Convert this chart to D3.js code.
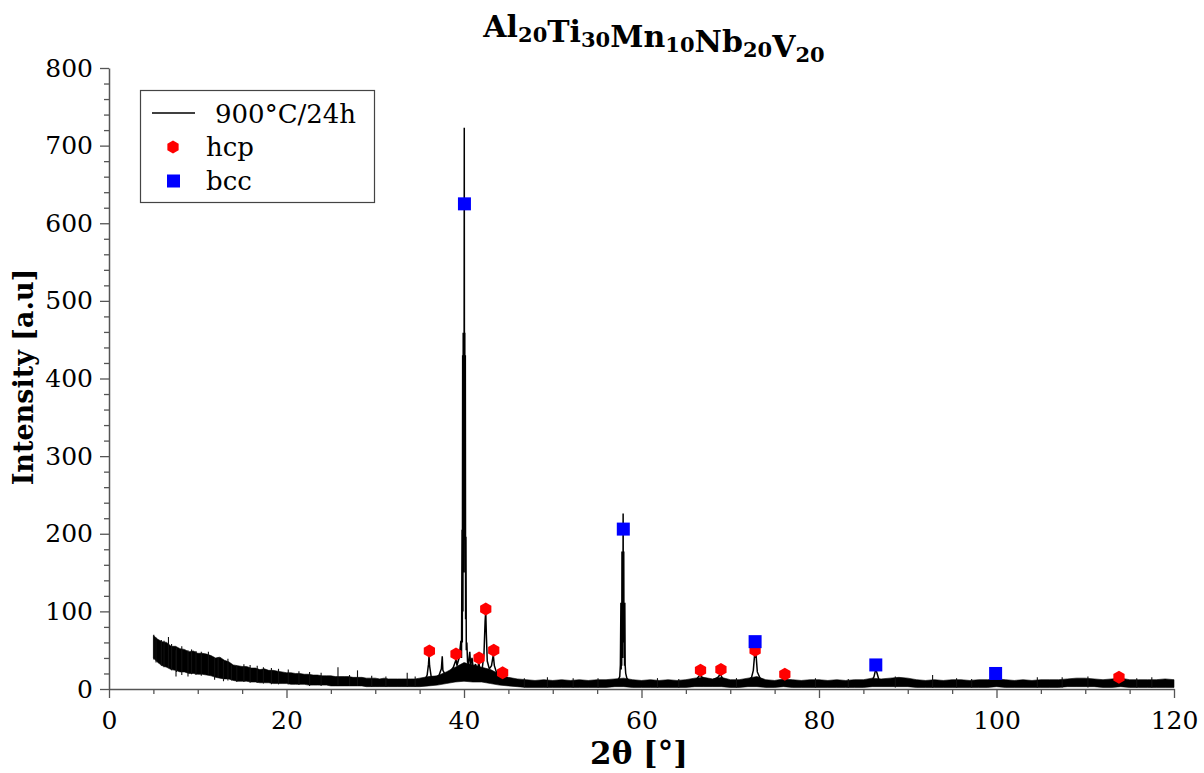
<!DOCTYPE html>
<html>
<head>
<meta charset="utf-8">
<script src="https://cdn.jsdelivr.net/npm/d3@7"></script>
<style>
  body { margin: 0; background: #fff; }
  svg { display: block; font-family: "DejaVu Serif", serif; }
  .axis .domain { stroke: #555; stroke-width: 1.5; }
  .axis .tick line { stroke: #555; stroke-width: 1.3; }
  .axis .tick text { fill: #000; font-size: 25px; font-family: "DejaVu Serif", serif; }
</style>
</head>
<body>
<svg id="chart" width="1204" height="773"></svg>
<script>
// ---- XRD pattern, Al20Ti30Mn10Nb20V20 annealed 900 °C / 24 h ----

// Noise band of the measured trace: lower and upper envelope (a.u.) vs 2θ (°)
const bandAngle = [
  5.0, 5.5, 6.0, 6.5, 7.0, 7.5, 8.0, 8.5, 9.0, 9.5, 10.0, 10.5, 11.0, 11.5, 12.0, 12.5,
  13.0, 13.5, 14.0, 14.5, 15.0, 15.5, 16.0, 16.5, 17.0, 17.5, 18.0, 18.5, 19.0, 19.5,
  20.0, 20.5, 21.0, 21.5, 22.0, 22.5, 23.0, 23.5, 24.0, 24.5, 25.0, 25.5, 26.0, 26.5,
  27.0, 27.5, 28.0, 28.5, 29.0, 29.5, 30.0, 30.5, 31.0, 31.5, 32.0, 32.5, 33.0, 33.5,
  34.0, 34.5, 35.0,
  36, 37, 38, 39, 40, 41, 42, 43, 44, 45, 46, 47, 48, 49, 50, 51, 52, 53, 54, 55, 56,
  57, 58, 59, 60, 61, 62, 63, 64, 65, 66, 67, 68, 69, 70, 71, 72, 73, 74, 75, 76, 77,
  78, 79, 80, 81, 82, 83, 84, 85, 86, 87, 88, 89, 90, 91, 92, 93, 94, 95, 96, 97, 98,
  99, 100, 101, 102, 103, 104, 105, 106, 107, 108, 109, 110, 111, 112, 113, 114, 115,
  116, 117, 118, 119, 120
];
const bandLow = [
  40, 34, 30, 28, 25, 24, 22, 22, 20, 20, 19, 19, 18, 17, 15, 14,
  13, 13, 11, 10, 10, 10, 9, 9, 8, 8, 8, 7, 7, 7,
  7, 6, 6, 6, 6, 5, 5, 5, 5, 5, 4, 4, 4, 4,
  4, 4, 4, 4, 3, 3, 3, 3, 3, 3, 3, 3, 3, 3,
  3, 3, 3,
  4, 5, 7, 9, 10, 9, 9, 7, 5, 4, 3, 2, 2, 2, 2, 2, 2, 2, 2, 2, 2,
  3, 3, 2, 2, 2, 2, 2, 2, 2, 3, 3, 3, 3, 2, 2, 3, 3, 2, 2, 3, 2,
  2, 2, 2, 2, 2, 2, 2, 2, 3, 3, 3, 3, 3, 2, 2, 2, 2, 2, 2, 2, 2,
  2, 3, 2, 2, 2, 2, 2, 2, 2, 3, 3, 3, 3, 2, 2, 3, 2,
  2, 2, 2, 2, 2
];
const bandHigh = [
  69, 64, 61, 60, 55, 55, 52, 51, 48, 49, 46, 46, 45, 43, 40, 41,
  37, 35, 31, 30, 29, 29, 27, 27, 25, 26, 24, 24, 23, 22,
  21, 21, 20, 20, 19, 19, 18, 18, 17, 17, 17, 16, 16, 16,
  16, 15, 15, 15, 14, 14, 14, 13, 14, 13, 13, 13, 13, 13,
  13, 13, 14,
  16, 17, 22, 28, 34, 31, 28, 25, 19, 15, 13, 12, 11, 12, 11, 12, 11, 12, 11, 12, 12,
  13, 14, 12, 11, 12, 11, 12, 11, 12, 14, 15, 13, 15, 12, 12, 14, 16, 12, 11, 13, 12,
  11, 12, 12, 11, 12, 11, 12, 12, 14, 13, 14, 15, 14, 12, 11, 12, 11, 12, 12, 11, 12,
  12, 13, 12, 11, 12, 11, 12, 12, 12, 13, 14, 14, 13, 12, 13, 14, 12,
  12, 12, 12, 13, 12
];

// Isolated noise spikes sticking out of the band (lower end, upper end)
const spikeAngle = [
  5.05, 5.3, 5.9, 6.2, 6.7, 7.05, 7.55, 7.6, 8.2, 8.9, 9.3, 9.8, 10.4, 11.2, 11.9, 12.3,
  12.9, 13.4, 13.8, 14.4, 15.2, 15.9, 16.7, 17.4, 18.3, 19.1, 20.2, 21.4, 22.6, 23.9,
  25.8, 27.1, 28.0, 29.6, 31.2, 33.6, 34.5,
  46.8, 49.4, 52.3, 55.1, 61.8, 64.2, 70.7, 79.6, 83.3, 88.6, 92.8, 95.5, 97.2, 104.6,
  107.4, 110.3, 115.8, 117.5
];
const spikeLow = [
  38, 34, 30, 28, 27, 24, 16, 22, 18, 16, 19, 18, 17, 19, 12, 15,
  10, 11, 11, 9, 9, 8, 8, 7, 6, 6, 6, 5, 4, 4,
  5, 4, 4, 3, 3, 3, 3,
  2, 2, 2, 2, 2, 2, 2, 2, 2, 2, 2, 2, 2, 2,
  2, 2, 2, 2
];
const spikeHigh = [
  70, 66, 63, 62, 67, 58, 50, 53, 55, 50, 51, 49, 48, 48, 40, 41,
  36, 39, 31, 30, 32, 31, 30, 28, 27, 26, 25, 23, 22, 21,
  28, 18, 24, 17, 16, 21, 16,
  14, 15, 14, 14, 14, 13, 14, 14, 13, 16, 18, 14, 13, 15,
  15, 16, 14, 15
];

// Diffraction peak profiles (null separates the peak groups)
const peakAngle = [
  35.6, 35.85, 36.0, 36.06, 36.12, 36.3, 36.7, 37.2, 37.45, 37.55, 37.62, 37.9, 38.4, 38.8,
  39.05, 39.12, 39.2, 39.45, 39.65, 39.72, 39.78, 39.81, 39.85, 39.88, 39.91, 39.94, 39.97,
  40.0, 40.03, 40.06, 40.09, 40.12, 40.15, 40.18, 40.22, 40.26, 40.32, 40.4, 40.5, 40.65,
  40.75, 40.9, 41.05, 41.3, 41.5, 41.68, 41.8, 42.05, 42.25, 42.38, 42.45, 42.52, 42.62,
  42.85, 43.1, 43.3, 43.42, 43.7, 44.05, 44.33, 44.5, 44.9, 45.4, null,
  57.3, 57.55, 57.62, 57.68, 57.71, 57.74, 57.77, 57.8, 57.83, 57.86, 57.9, 57.93, 57.96,
  58.0, 58.03, 58.06, 58.09, 58.12, 58.16, 58.22, 58.35, 58.6, null,
  66.0, 66.35, 66.6, 66.85, 67.3, 67.9, 68.6, 68.9, 69.1, 69.5, null,
  72.0, 72.4, 72.6, 72.75, 72.82, 72.9, 73.05, 73.35, 73.8, null,
  75.8, 76.1, 76.25, 76.6, null,
  85.9, 86.2, 86.38, 86.5, 86.8, null,
  99.6, 99.85, 100.1, null,
  113.5, 113.85, 114.2
];
const peakCount = [
  12, 18, 32, 43, 30, 16, 14, 18, 26, 42, 24, 18, 22, 28,
  36, 40, 30, 40, 62, 40, 205, 60, 430, 100, 459, 150, 459,
  200, 723, 200, 459, 150, 430, 90, 196, 50, 60, 35, 32, 48,
  30, 40, 26, 32, 24, 35, 22, 26, 45, 88, 100, 70, 36,
  26, 30, 44, 30, 20, 17, 24, 14, 11, 9, null,
  10, 16, 31, 111, 25, 111, 30, 177, 40, 177, 60, 226, 60,
  177, 40, 111, 30, 111, 31, 20, 14, 10, null,
  9, 15, 18, 15, 10, 11, 15, 19, 14, 9, null,
  10, 15, 24, 45, 40, 45, 22, 14, 9, null,
  8, 14, 13, 8, null,
  9, 16, 25, 22, 10, null,
  9, 13, 9, null,
  9, 15, 9
];

// Phase markers
const hcpAngle = [36.1, 39.1, 41.7, 42.45, 43.35, 44.35, 66.65, 68.95, 72.8, 76.15, 113.8];
const hcpCount = [49, 45, 40, 103, 50, 21, 24, 25, 50, 19, 15];
const bccAngle = [40.05, 57.95, 72.8, 86.4, 99.9];
const bccCount = [625, 206, 61, 31, 20];

// Axis ticks
const xMajorTicks = [0, 20, 40, 60, 80, 100, 120];
const xMinorTicks = [5, 10, 15, 25, 30, 35, 45, 50, 55, 65, 70, 75, 85, 90, 95, 105, 110, 115];
const yMajorTicks = [0, 100, 200, 300, 400, 500, 600, 700, 800];
const yMinorTicks = d3.range(0, 800, 20).filter(v => v % 100 !== 0);

// Legend
const legendLabels = ["900°C/24h", "hcp", "bcc"];

// ---- drawing ----
const svg = d3.select("#chart");
const x = d3.scaleLinear().domain([0, 120]).range([109, 1174]);
const y = d3.scaleLinear().domain([0, 800]).range([689, 68]);

// axes
svg.append("g").attr("class", "axis").attr("transform", `translate(0,${y(0)})`)
  .call(d3.axisBottom(x).tickValues(xMinorTicks).tickSize(5).tickSizeOuter(0).tickFormat(""))
  .select(".domain").remove();
svg.append("g").attr("class", "axis").attr("transform", `translate(${x(0)},0)`)
  .call(d3.axisLeft(y).tickValues(yMinorTicks).tickSize(5).tickSizeOuter(0).tickFormat(""))
  .select(".domain").remove();
svg.append("g").attr("class", "axis").attr("transform", `translate(0,${y(0)})`)
  .call(d3.axisBottom(x).tickValues(xMajorTicks).tickSize(9).tickSizeOuter(0).tickPadding(13).tickFormat(d3.format("d")));
svg.append("g").attr("class", "axis").attr("transform", `translate(${x(0)},0)`)
  .call(d3.axisLeft(y).tickValues(yMajorTicks).tickSize(9).tickSizeOuter(0).tickPadding(7).tickFormat(d3.format("d")));

// measured trace: noise band
const band = bandAngle.map((a, i) => [a, bandLow[i], bandHigh[i]]);
svg.append("path")
  .datum(band)
  .attr("d", d3.area().x(d => x(d[0])).y0(d => y(d[1])).y1(d => y(d[2])))
  .attr("fill", "#000").attr("stroke", "#000").attr("stroke-width", 0.6)
  .attr("stroke-linejoin", "round");

svg.append("g").selectAll("line")
  .data(spikeAngle.map((a, i) => [a, spikeLow[i], spikeHigh[i]]))
  .join("line")
  .attr("x1", d => x(d[0])).attr("x2", d => x(d[0]))
  .attr("y1", d => y(d[1])).attr("y2", d => y(d[2]))
  .attr("stroke", "#111").attr("stroke-width", 1.1);

// measured trace: peaks
const peaks = peakAngle.map((a, i) => [a, peakCount[i]]);
svg.append("path")
  .datum(peaks)
  .attr("d", d3.line().defined(d => d[1] !== null).x(d => x(d[0])).y(d => y(d[1])))
  .attr("fill", "none").attr("stroke", "#000").attr("stroke-width", 1.5)
  .attr("stroke-linejoin", "miter").attr("stroke-miterlimit", 2);

// markers
function hexPath(r) {
  const pts = d3.range(6).map(k => {
    const t = Math.PI / 3 * k;
    return [r * Math.sin(t), -r * Math.cos(t)];
  });
  return "M" + pts.map(p => p.join(",")).join("L") + "Z";
}
const hex = hexPath(6.5);
svg.append("g").selectAll("path")
  .data(hcpAngle.map((a, i) => [a, hcpCount[i]]))
  .join("path")
  .attr("transform", d => `translate(${x(d[0])},${y(d[1])})`)
  .attr("d", hex).attr("fill", "#ff0000");
svg.append("g").selectAll("rect")
  .data(bccAngle.map((a, i) => [a, bccCount[i]]))
  .join("rect")
  .attr("x", d => x(d[0]) - 6.5).attr("y", d => y(d[1]) - 6.5)
  .attr("width", 13).attr("height", 13).attr("fill", "#0000ff");

// title with subscripts
const titleParts = [["Al", "20"], ["Ti", "30"], ["Mn", "10"], ["Nb", "20"], ["V", "20"]];
const title = svg.append("text")
  .attr("x", 654).attr("y", 37).attr("text-anchor", "middle")
  .attr("font-weight", "bold").attr("font-size", 30);
titleParts.forEach(([el, n]) => {
  title.append("tspan").text(el);
  title.append("tspan").attr("font-size", 21).attr("dy", 5).text(n);
  title.append("tspan").attr("dy", -5).text("");
});

// axis titles
svg.append("text")
  .attr("x", 639).attr("y", 764).attr("text-anchor", "middle")
  .attr("font-weight", "bold").attr("font-size", 31).text("2θ [°]");
svg.append("text")
  .attr("transform", "translate(33,377) rotate(-90)").attr("text-anchor", "middle")
  .attr("font-weight", "bold").attr("font-size", 27).text("Intensity [a.u]");

// legend
const lg = svg.append("g");
lg.append("rect").attr("x", 140.5).attr("y", 90.5).attr("width", 234).attr("height", 112)
  .attr("fill", "#fff").attr("stroke", "#444").attr("stroke-width", 1.2);
lg.append("line").attr("x1", 152).attr("x2", 195).attr("y1", 113).attr("y2", 113)
  .attr("stroke", "#000").attr("stroke-width", 1.3);
lg.append("path").attr("transform", "translate(173,147)").attr("d", hex).attr("fill", "#ff0000");
lg.append("rect").attr("x", 167).attr("y", 174.5).attr("width", 13).attr("height", 13).attr("fill", "#0000ff");
lg.selectAll("text.lab")
  .data(legendLabels)
  .join("text").attr("class", "lab")
  .attr("x", (d, i) => i === 0 ? 215 : 206)
  .attr("y", (d, i) => [123, 156, 190][i])
  .attr("font-size", 26).text(d => d);
</script>
</body>
</html>
